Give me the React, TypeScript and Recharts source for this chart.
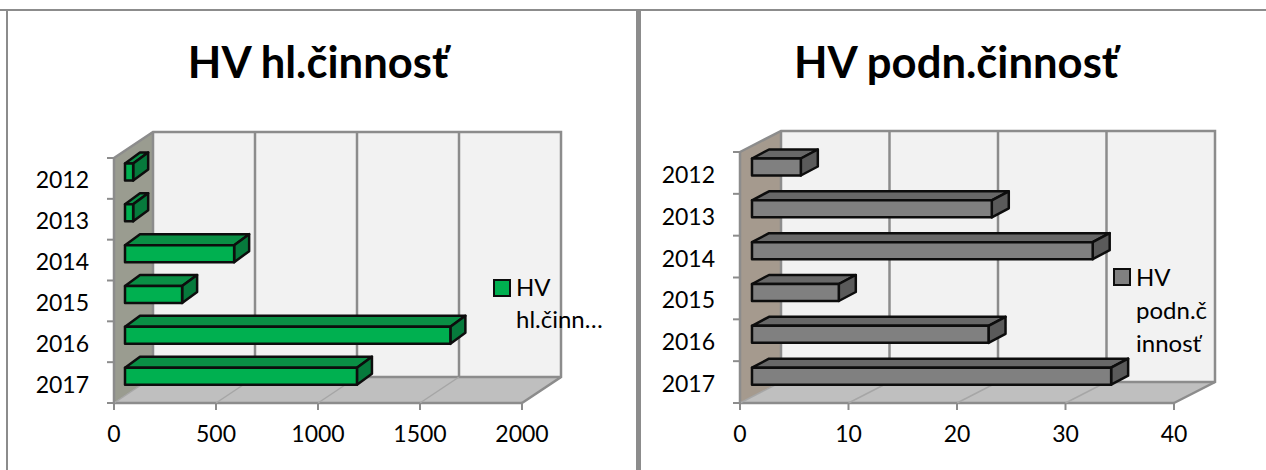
import { BarChart, Bar, XAxis, YAxis, Legend, ReferenceArea, ReferenceLine } from "recharts"

const years = ["2012", "2013", "2014", "2015", "2016", "2017"]
const mainValues = [40, 40, 535, 280, 1595, 1137]
const businessValues = [4.5, 22.1, 31.4, 8, 21.8, 33.1]
const mainTicks = [0, 500, 1000, 1500, 2000]
const businessTicks = [0, 10, 20, 30, 40]
const mainLegend = ["HV", "hl.činn…"]
const businessLegend = ["HV", "podn.č", "innosť"]

const FONT = "Lato, 'Open Sans', sans-serif"
const GRID = "#8c8c8c"

function Panel({ title, name, values, ticks, legendLines, left, width, cfg }: any) {
  const data = years.map((year, i) => ({ year, value: values[i] }))
  const maxTick = ticks[ticks.length - 1]
  const { dx, dy, barDx, barDy, offsetX, offsetY, colors } = cfg

  const walls = (p: any) => {
    const { x, y, width: w, height: h } = p
    const bottom = y + h
    return (
      <g>
        <polygon points={`${x + dx},${y + dy} ${x + w + dx},${y + dy} ${x + w + dx},${bottom + dy} ${x + dx},${bottom + dy}`} fill="#f2f2f2" />
        <polygon points={`${x},${y} ${x + dx},${y + dy} ${x + dx},${bottom + dy} ${x},${bottom}`} fill={colors.side} />
        <polygon points={`${x},${bottom} ${x + dx},${bottom + dy} ${x + w + dx},${bottom + dy} ${x + w},${bottom}`} fill="#bfbfbf" />
        <path d={`M${x},${y} L${x + dx},${y + dy} L${x + w + dx},${y + dy} L${x + w + dx},${bottom + dy} L${x + w},${bottom}`} fill="none" stroke={GRID} strokeWidth={2.5} />
        <path d={`M${x + dx},${y + dy} V${bottom + dy} H${x + w + dx}`} fill="none" stroke={GRID} strokeWidth={2.5} />
        <path d={`M${x},${y} V${bottom} H${x + w}`} fill="none" stroke={GRID} strokeWidth={2.5} />
        <path d={`M${x + dx},${bottom + dy} L${x},${bottom}`} fill="none" stroke="#a6a6a6" strokeWidth={1.5} />
      </g>
    )
  }

  const gridLine = (p: any) => {
    const { x1, y1, y2 } = p
    const top = Math.min(y1, y2)
    const bottom = Math.max(y1, y2)
    return (
      <g>
        <path d={`M${x1},${bottom} L${x1 + dx},${bottom + dy}`} fill="none" stroke="#a6a6a6" strokeWidth={1.5} />
        <path d={`M${x1 + dx},${top + dy} V${bottom + dy}`} fill="none" stroke={GRID} strokeWidth={2.5} />
      </g>
    )
  }

  const box = (p: any) => {
    const x = p.x + offsetX
    const y = p.y + offsetY
    const w = p.width
    const h = p.height
    return (
      <g stroke="#0d0d0d" strokeWidth={2.5} strokeLinejoin="round">
        <polygon points={`${x},${y} ${x + barDx},${y + barDy} ${x + w + barDx},${y + barDy} ${x + w},${y}`} fill={colors.top} />
        <polygon points={`${x + w},${y} ${x + w + barDx},${y + barDy} ${x + w + barDx},${y + h + barDy} ${x + w},${y + h}`} fill={colors.end} />
        <rect x={x} y={y} width={w} height={h} fill={colors.front} />
      </g>
    )
  }

  const yearTick = (p: any) => {
    const half = cfg.band / 2
    return (
      <g>
        {p.index === 0 && <line x1={p.x + 1} x2={p.x + 9} y1={p.y - half} y2={p.y - half} stroke={GRID} strokeWidth={2} />}
        <line x1={p.x + 1} x2={p.x + 9} y1={p.y + half} y2={p.y + half} stroke={GRID} strokeWidth={2} />
        <text x={p.x - 17} y={p.y + cfg.labelDy} textAnchor="end" fontFamily={FONT} fontSize={23} fill="#000">
          {p.payload.value}
        </text>
      </g>
    )
  }

  const legendBox = () => (
    <div style={{ fontFamily: FONT, fontSize: 24, color: "#000", lineHeight: `${cfg.legendLine}px`, position: "relative" }}>
      <span style={{ position: "absolute", left: 0, top: 8, width: 14, height: 14, border: "2px solid #0d0d0d", background: colors.front }} />
      <div style={{ marginLeft: 23 }}>
        {legendLines.map((line: string) => (
          <div key={line} style={{ whiteSpace: "nowrap" }}>{line}</div>
        ))}
      </div>
    </div>
  )

  return (
    <div style={{ position: "absolute", left, top: 0, width, height: 470 }}>
      <div style={{ position: "absolute", left: cfg.titleShift, width, top: cfg.titleTop, textAlign: "center", fontFamily: FONT, fontWeight: 700, fontSize: 43.6, color: "#000" }}>
        {title}
      </div>
      <BarChart
        width={width}
        height={470}
        layout="vertical"
        data={data}
        barSize={17}
        margin={{ top: cfg.top, right: cfg.right, bottom: 27, left: cfg.left }}
        style={{ position: "absolute", left: 0, top: 0 }}
      >
        <XAxis
          type="number"
          domain={[0, maxTick]}
          ticks={ticks}
          height={40}
          axisLine={false}
          tickSize={7}
          tickLine={{ stroke: GRID, strokeWidth: 2 }}
          tickMargin={16}
          interval={0}
          tick={{ fontFamily: FONT, fontSize: 23, fill: "#000" }}
        />
        <YAxis type="category" dataKey="year" width={cfg.axisWidth} axisLine={false} tickLine={false} tick={yearTick} interval={0} />
        <ReferenceArea x1={0} x2={maxTick} shape={walls} ifOverflow="visible" zIndex={100} />
        {ticks.slice(1, -1).map((t: number) => (
          <ReferenceLine key={t} x={t} shape={gridLine} ifOverflow="visible" zIndex={150} />
        ))}
        <Legend content={legendBox} layout="horizontal" verticalAlign="middle" wrapperStyle={{ left: cfg.legendX, top: cfg.legendY, width: 130, bottom: "auto", right: "auto" }} />
        <Bar dataKey="value" name={name} shape={box} isAnimationActive={false} />
      </BarChart>
    </div>
  )
}

const mainCfg = {
  dx: 39, dy: -26, barDx: 15, barDy: -11, offsetX: 11, offsetY: -6.5, band: 40.83,
  top: 158, right: 114, left: 34, axisWidth: 80, labelDy: 10, titleTop: 35, titleShift: 0,
  legendX: 493, legendY: 271, legendLine: 32,
  colors: { front: "#00b050", top: "#0a8f45", end: "#067a3c", side: "#9a9c90" },
}

const businessCfg = {
  dx: 41, dy: -21, barDx: 17, barDy: -9, offsetX: 12, offsetY: -5.5, band: 41.83,
  top: 152, right: 92, left: 20, axisWidth: 80, labelDy: 10, titleTop: 35, titleShift: 3,
  legendX: 473, legendY: 260, legendLine: 33,
  colors: { front: "#808080", top: "#686868", end: "#5a5a5a", side: "#a59a8e" },
}

export default function App() {
  return (
    <div style={{ position: "absolute", left: 0, top: 0, width: 1266, height: 470, background: "#fff", overflow: "hidden" }}>
      <div style={{ position: "absolute", left: 0, top: 9, width: 1266, height: 2, background: "#8c8c8c" }} />
      <div style={{ position: "absolute", left: 6, top: 9, width: 2, height: 461, background: "#8c8c8c" }} />
      <div style={{ position: "absolute", left: 636, top: 9, width: 5, height: 461, background: "#8c8c8c" }} />
      <Panel title="HV hl.činnosť" name="HV hl.činnosť" values={mainValues} ticks={mainTicks} legendLines={mainLegend} left={0} width={636} cfg={mainCfg} />
      <Panel title="HV podn.činnosť" name="HV podn.činnosť" values={businessValues} ticks={businessTicks} legendLines={businessLegend} left={640} width={626} cfg={businessCfg} />
    </div>
  )
}
